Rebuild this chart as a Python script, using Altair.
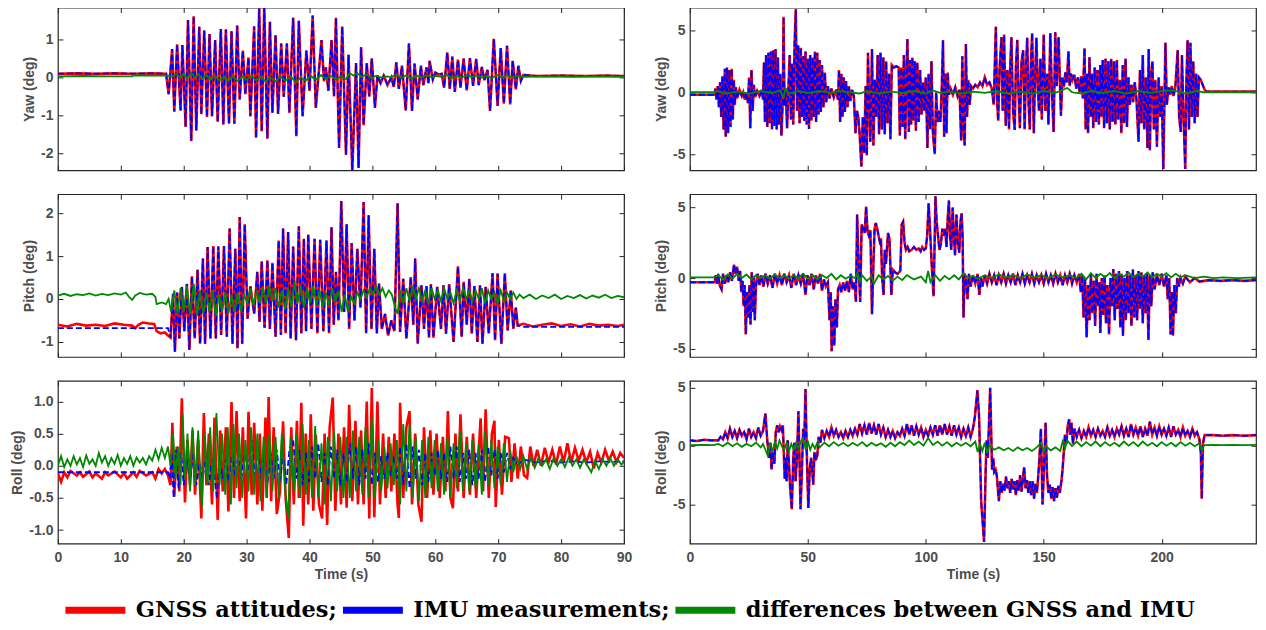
import altair as alt
import pandas as pd

LAB = ["GNSS attitudes;", "IMU measurements;", "differences between GNSS and IMU"]
COL = ["#ff0000", "#0000ff", "#008800"]

# ---------------- Left column (0-90 s) ----------------
LY_GNSS = [(0, 0.10), (3, 0.11), (6, 0.10), (9, 0.11), (12, 0.10), (15, 0.11), (17.2, 0.10),
    (17.6, -0.44), (18.16, 0.75), (18.5, -0.9), (18.95, 0.88), (19.5, -0.87), (19.79, 0.86), (20.3, -1.3),
    (20.68, 1.52), (21.2, -1.68), (21.58, 1.62), (22.0, -1.4), (22.47, 1.34), (22.8, -0.97), (23.26, 1.24),
    (23.7, -1.04), (24.1, 1.15), (24.5, -1.02), (25.0, 0.99), (25.4, -1.17), (25.9, 1.28), (26.3, -1.24),
    (26.7, 1.27), (27.2, -1.22), (27.6, 1.22), (28.05, -1.22), (28.5, 1.37), (28.9, -0.58), (29.4, 0.71),
    (29.8, -0.44), (30.3, 0.53), (30.6, -1.02), (31.2, 1.35), (31.5, -1.59), (32.0, 1.82), (32.4, -1.42),
    (32.8, 1.84), (33.3, -1.61), (33.7, 1.47), (34.1, -0.93), (34.6, 1.12), (35.0, -0.96), (35.5, 0.9),
    (35.9, -0.51), (36.4, 0.9), (36.8, -0.93), (37.4, 1.58), (37.9, -1.55), (38.3, 1.5), (38.9, -1.02),
    (39.5, 0.71), (40.0, -0.35), (40.5, 1.64), (41.0, -0.8), (41.9, 0.99), (42.3, -0.1), (42.6, 0.27),
    (43.0, -0.35), (43.5, 0.99), (43.9, -0.5), (44.2, 1.58), (44.7, -1.86), (45.2, 1.35), (45.8, -2.04),
    (46.2, 0.6), (46.8, -2.46), (47.4, 0.38), (47.8, -2.39), (48.2, 0.8), (48.6, -1.26), (49.1, 0.38),
    (49.5, -0.5), (49.9, 0.5), (50.4, -0.8), (50.8, 0.05), (51.3, -0.15), (51.8, 0.05), (52.4, -0.2),
    (53.0, 0.0), (53.4, -0.25), (53.8, 0.4), (54.2, -0.3), (54.7, 0.31), (55.3, -0.87), (55.8, 0.9),
    (56.3, -0.88), (56.7, 0.37), (57.2, -0.58), (57.7, 0.31), (58.1, -0.2), (58.6, 0.27), (58.9, -0.15),
    (59.1, 0.44), (59.6, -0.05), (60.0, 0.13), (60.5, 0.08), (61.0, 0.1), (61.4, -0.27), (61.9, 0.66),
    (62.3, -0.3), (62.7, 0.55), (63.1, -0.38), (63.6, 0.47), (64.0, -0.27), (64.5, 0.5), (65.0, -0.34),
    (65.5, 0.51), (66.0, -0.22), (66.5, 0.49), (66.9, -0.2), (67.4, 0.28), (67.8, -0.07), (68.3, 0.2),
    (68.7, -0.88), (69.3, 1.02), (69.9, -0.75), (70.4, 0.78), (70.9, -0.69), (71.4, 0.84), (71.9, -0.71),
    (72.3, 0.44), (72.8, -0.31), (73.2, 0.31), (73.6, -0.09), (74.0, 0.07), (76, 0.04), (80, 0.05),
    (84, 0.04), (87, 0.05), (90, 0.04)]
LY_IMU = LY_GNSS  # read as coincident with the GNSS curve
LY_DIFF = [(0, 0.03), (4, 0.04), (8, 0.03), (11.8, 0.03), (12, 0.06), (15, 0.05), (17.5, 0.05), (18.2, 0.02),
    (18.8, 0.09), (19.4, 0.0), (20.0, 0.1), (20.5, -0.02), (21.2, 0.12), (21.8, 0.0), (22.4, 0.08), (23, -0.04),
    (23.6, 0.06), (24.3, -0.06), (25, 0.04), (25.7, -0.08), (26.4, 0.03), (27, -0.1), (27.8, 0.02), (28.6, -0.09),
    (29.3, 0.02), (30, -0.06), (30.8, 0.05), (31.5, -0.08), (32.2, 0.02), (33, -0.1), (33.8, 0.0), (34.6, -0.1),
    (35.4, 0.02), (36.2, -0.09), (37, 0.03), (37.8, -0.12), (38.6, 0.0), (39.4, -0.08), (40.2, 0.04), (41, -0.06),
    (41.8, 0.06), (42.6, -0.03), (43.4, 0.04), (44.2, -0.05), (45, 0.03), (45.8, -0.04), (46.4, 0.12), (47, 0.05),
    (47.6, 0.11), (48.3, 0.02), (49, 0.08), (49.8, -0.02), (50.6, 0.05), (51.4, 0.0), (52.2, 0.03), (53, 0.01),
    (53.8, 0.08), (54.6, -0.02), (55.4, 0.06), (56.2, -0.03), (57, 0.05), (57.8, 0.0), (58.6, 0.06), (59.4, 0.01),
    (60.2, 0.04), (61, 0.02), (61.8, 0.07), (62.6, -0.01), (63.4, 0.05), (64.2, 0.0), (65, 0.06), (65.8, 0.01),
    (66.6, 0.05), (67.4, 0.0), (68.2, 0.04), (69, -0.02), (69.8, 0.07), (70.6, 0.0), (71.4, 0.06), (72.2, 0.0),
    (73, 0.04), (74, 0.02), (78, 0.03), (82, 0.02), (86, 0.03), (90, 0.02)]

LP_OSC = [(17.9, -0.9), (18.3, 0.12), (18.6, -1.23), (18.95, 0.15), (19.3, -0.92), (19.7, 0.28), (20.1, -0.75),
    (20.5, 0.35), (20.9, -1.19), (21.3, 0.53), (21.75, -0.92), (22.2, 0.68), (22.6, -1.04), (23.05, 0.94),
    (23.4, -1.04), (23.8, 1.21), (24.25, -0.92), (24.7, 1.23), (25.1, -0.92), (25.5, 1.22), (25.95, -0.84),
    (26.4, 1.23), (26.85, -0.88), (27.3, 1.64), (27.75, -1.04), (28.2, 1.17), (28.55, -1.15), (28.9, 1.91),
    (29.3, -1.04), (29.7, 1.74), (30.15, -0.46), (30.6, 0.3), (31.2, -0.34), (31.7, 0.63), (32.05, -0.53),
    (32.4, 0.88), (32.85, -0.67), (33.3, 0.9), (33.7, -0.7), (34.1, 0.84), (34.6, -0.88), (35.1, 1.36),
    (35.45, -0.84), (35.8, 1.64), (36.2, -0.8), (36.6, 1.56), (37.0, -0.92), (37.4, 1.22), (37.85, -0.96),
    (38.3, 1.69), (38.7, -0.8), (39.1, 1.4), (39.45, -0.75), (39.8, 1.5), (40.3, -0.7), (40.8, 1.4),
    (41.25, -0.8), (41.7, 1.38), (42.2, -0.75), (42.7, 1.36), (43.1, -0.8), (43.5, 1.67), (43.85, -0.6),
    (44.2, 0.63), (44.6, -0.5), (45.05, 2.28), (45.5, -0.3), (45.9, 1.74), (46.3, -0.7), (46.7, 1.3),
    (47.15, -0.5), (47.6, 1.17), (48.1, -0.2), (48.6, 2.26), (49.0, -0.8), (49.4, 1.95), (49.85, -0.7),
    (50.3, 1.17), (50.7, -0.8), (51.05, 0.36), (51.5, -0.7), (52.0, -0.35), (52.5, -0.85), (53.0, -0.5),
    (53.5, -0.75), (54.0, 2.23), (54.4, -0.77), (54.9, 0.47), (55.4, -0.92), (56.1, 0.51), (56.5, -0.6),
    (56.8, 0.94), (57.2, -1.04), (57.8, 0.32), (58.2, -0.7), (58.6, 0.3), (59.0, -0.9), (59.3, 0.35),
    (59.7, -0.9), (60.3, 0.28), (60.9, -0.7), (61.3, 0.32), (61.7, -0.81), (62.2, 0.34), (62.9, -1.0),
    (63.6, 0.76), (64.2, -0.88), (64.5, 0.4), (65.0, -0.6), (65.4, 0.47), (65.8, -0.81), (66.2, 0.3),
    (66.7, -1.0), (67.1, 0.32), (67.5, -1.04), (68.0, 0.28), (68.5, -0.8), (69.1, 0.6), (69.5, -0.96),
    (69.9, 0.59), (70.5, -1.04), (71.05, 0.6), (71.5, -0.73), (72.0, 0.2), (72.4, -0.69), (72.8, -0.2),
    (73.1, -0.62)]
LP_GNSS_PRE = [(0, -0.6), (1.5, -0.64), (3, -0.58), (4.5, -0.62), (6, -0.6), (7.5, -0.63), (9, -0.57),
    (10.5, -0.6), (11.8, -0.62), (12.3, -0.68), (12.8, -0.6), (13.5, -0.55), (14.5, -0.57), (15.3, -0.58),
    (15.7, -0.75), (16.3, -0.8), (17.0, -0.78), (17.5, -0.85)]
LP_GNSS_POST = [(74, -0.58), (75.5, -0.64), (77, -0.6), (78.5, -0.57), (80, -0.63), (81.5, -0.59),
    (83, -0.64), (84.5, -0.58), (86, -0.62), (87.5, -0.6), (89, -0.63), (90, -0.6)]
LP_IMU_PRE = [(0, -0.68), (17.5, -0.68)]
LP_IMU_POST = [(74, -0.65), (90, -0.65)]
LP_DIFF = [(0, 0.08), (1, 0.12), (2, 0.07), (3, 0.11), (4, 0.09), (5, 0.13), (6, 0.08), (7, 0.12), (8, 0.09),
    (9, 0.13), (10, 0.1), (10.8, 0.15), (11.3, 0.05), (11.8, -0.02), (12.3, 0.08), (13, 0.14), (14, 0.1),
    (15, 0.12), (15.5, 0.05), (15.7, -0.12), (16.5, -0.08), (17.2, -0.12), (17.6, 0.0), (18.0, -0.3),
    (18.5, 0.2), (19.0, -0.35), (19.5, 0.25), (20.0, -0.3), (20.5, 0.3), (21.0, -0.35), (21.6, 0.35),
    (22.1, -0.4), (22.6, 0.2), (23.1, -0.35), (23.6, 0.15), (24.1, -0.3), (24.6, 0.2), (25.1, -0.4),
    (25.6, 0.1), (26.1, -0.3), (26.6, 0.15), (27.1, -0.35), (27.6, 0.1), (28.1, -0.3), (28.6, 0.15),
    (29.1, -0.3), (29.6, 0.1), (30.1, -0.1), (30.6, 0.25), (31.1, -0.15), (31.6, 0.2), (32.1, -0.1),
    (32.6, 0.25), (33.1, -0.1), (33.6, 0.3), (34.1, -0.05), (34.6, 0.25), (35.1, -0.2), (35.6, 0.2),
    (36.1, -0.25), (36.6, 0.25), (37.1, -0.2), (37.6, 0.4), (38.1, -0.1), (38.6, 0.3), (39.1, -0.2),
    (39.6, 0.25), (40.1, -0.1), (40.6, 0.3), (41.1, -0.15), (41.6, 0.2), (42.1, -0.2), (42.6, 0.15),
    (43.1, -0.15), (43.6, 0.25), (44.1, -0.05), (44.6, 0.2), (45.1, -0.3), (45.6, 0.1), (46.1, -0.3),
    (46.6, 0.05), (47.1, -0.1), (47.6, 0.15), (48.1, 0.0), (48.6, 0.2), (49.1, 0.05), (49.6, 0.25),
    (50.1, 0.1), (50.6, 0.3), (51.1, 0.1), (51.6, 0.25), (52.1, 0.05), (52.6, 0.2), (53.1, 0.1),
    (53.6, -0.2), (54.0, -0.35), (54.4, 0.2), (54.9, -0.1), (55.4, 0.25), (55.9, -0.05), (56.4, 0.3),
    (56.9, 0.0), (57.4, 0.25), (57.9, -0.05), (58.4, 0.2), (58.9, -0.1), (59.4, 0.25), (59.9, 0.0),
    (60.4, 0.2), (60.9, -0.05), (61.4, 0.25), (61.9, 0.0), (62.4, 0.15), (62.9, -0.1), (63.4, 0.2),
    (63.9, -0.05), (64.4, 0.25), (64.9, 0.0), (65.4, 0.2), (65.9, -0.05), (66.4, 0.2), (66.9, 0.0),
    (67.4, 0.25), (67.9, -0.1), (68.4, 0.2), (68.9, 0.0), (69.4, 0.15), (69.9, -0.1), (70.4, 0.2),
    (70.9, -0.05), (71.4, 0.15), (71.9, 0.0), (72.4, 0.15), (72.9, 0.0), (73.4, 0.1), (74, 0.02), (75, 0.1),
    (76, 0.0), (77, 0.08), (78, 0.02), (79, 0.1), (80, 0.0), (81, 0.07), (82, 0.02), (83, 0.09), (84, 0.01),
    (85, 0.08), (86, 0.03), (87, 0.1), (88, 0.02), (89, 0.07), (90, 0.04)]

LR_GNSS = [(0, -0.12), (0.5, -0.25), (1, -0.1), (1.5, -0.18), (2, -0.08), (3, -0.15), (3.5, -0.1), (4, -0.17),
    (5, -0.09), (5.5, -0.18), (6, -0.12), (7, -0.2), (7.5, -0.1), (8, -0.15), (9, -0.09), (10, -0.18),
    (10.5, -0.11), (11, -0.2), (12, -0.1), (12.5, -0.17), (13, -0.08), (14, -0.15), (15, -0.1), (15.5, -0.2),
    (16, -0.05), (16.5, -0.12), (17, -0.05), (17.5, -0.15), (17.9, -0.3), (18.2, 0.67), (18.5, -0.48),
    (18.9, 0.3), (19.3, -0.4), (19.7, 1.05), (20.2, -0.57), (20.6, 0.4), (21.0, -0.3), (21.4, 0.55),
    (21.8, -0.45), (22.3, 0.4), (22.8, -0.82), (23.2, 0.82), (23.6, -0.3), (24.0, 0.5), (24.5, -0.6),
    (24.9, 0.75), (25.4, -0.84), (25.8, 0.55), (26.2, -0.4), (26.7, 0.6), (27.1, -0.71), (27.6, 0.99),
    (28.0, -0.5), (28.4, 0.85), (28.9, -0.55), (29.4, 0.6), (29.9, -0.82), (30.3, 0.84), (30.8, -0.45),
    (31.2, 0.67), (31.7, -0.6), (32.1, 0.5), (32.5, -0.7), (33.0, 0.75), (33.2, -0.5), (33.5, 1.07),
    (33.9, -0.55), (34.3, 0.6), (34.8, -0.75), (35.3, -0.4), (35.8, 0.69), (36.2, -0.5), (36.7, -1.12),
    (37.1, 0.6), (37.5, -0.6), (38.0, 0.7), (38.3, -0.5), (38.7, 0.98), (39.0, -0.93), (39.4, 0.5),
    (39.8, -0.6), (40.2, 0.8), (40.6, -0.7), (41.0, 0.48), (41.5, -0.6), (42.0, -0.82), (42.4, 0.5),
    (42.8, -0.92), (43.2, 0.6), (43.7, 1.06), (44.1, -0.7), (44.6, 0.5), (45.0, -0.6), (45.5, 0.6),
    (45.9, -0.65), (46.3, 0.95), (46.8, -0.55), (47.3, 0.7), (47.7, -0.6), (48.2, 0.55), (48.6, -0.6),
    (49.1, 1.0), (49.5, -0.82), (49.9, 1.21), (50.3, -0.8), (50.8, 1.0), (51.2, -0.6), (51.7, 0.5),
    (52.1, -0.5), (52.6, 0.45), (53.0, -0.4), (53.5, 0.5), (54.0, -0.6), (54.2, -0.81), (54.4, 0.98),
    (54.9, -0.5), (55.4, 0.6), (55.9, 0.85), (56.3, -0.6), (56.8, 0.5), (57.3, -0.6), (57.8, -0.87),
    (58.2, 0.6), (58.7, -0.5), (59.2, 0.55), (59.7, -0.45), (60.2, 0.5), (60.7, -0.5), (61.2, 0.45),
    (61.6, -0.4), (62.0, 0.85), (62.4, -0.5), (62.8, -0.66), (63.2, 0.5), (63.6, -0.4), (64.0, 0.8),
    (64.5, -0.5), (65.0, 0.45), (65.5, -0.45), (66.0, 0.5), (66.5, -0.5), (67.2, 0.74), (67.6, -0.4),
    (68.0, 0.88), (68.5, -0.5), (69.0, 0.5), (69.4, 0.7), (69.6, -0.64), (70.1, 0.4), (70.6, -0.45),
    (71.1, 0.45), (71.7, 0.43), (72.1, -0.25), (72.6, 0.35), (73.1, -0.2), (73.6, 0.3), (74.1, -0.15),
    (74.6, -0.19), (75.1, 0.3), (75.6, 0.0), (76.2, 0.25), (76.8, 0.0), (77.4, 0.28), (78, 0.05),
    (78.6, 0.25), (79.2, 0.02), (79.8, 0.3), (80.4, 0.05), (81, 0.35), (81.6, 0.05), (82.2, 0.28),
    (82.8, 0.08), (83.4, 0.25), (84, 0.05), (84.6, 0.22), (85.2, -0.04), (85.8, 0.2), (86.4, 0.05),
    (87, 0.25), (87.6, 0.08), (88.2, 0.22), (88.8, 0.06), (89.4, 0.2), (90, 0.12)]
LR_IMU = [(0, -0.1), (17.5, -0.1), (17.8, -0.2), (18.1, 0.2), (18.4, -0.5), (18.8, 0.25), (19.2, -0.35),
    (19.6, 0.2), (20.0, -0.3), (20.5, 0.1), (21.0, -0.25), (21.5, 0.2), (22.0, -0.3), (22.5, 0.05),
    (23.0, -0.2), (23.5, 0.15), (24.0, -0.3), (24.5, 0.1), (25.0, -0.25), (25.3, -0.52), (25.7, 0.15),
    (26.2, -0.2), (26.7, 0.1), (27.2, -0.25), (27.7, 0.2), (28.2, -0.15), (28.7, 0.2), (29.2, -0.2),
    (29.7, 0.25), (30.2, -0.1), (30.8, 0.4), (31.3, -0.15), (31.8, 0.3), (32.3, -0.2), (32.8, 0.2),
    (33.3, -0.3), (33.8, 0.2), (34.3, -0.2), (34.8, 0.25), (35.3, -0.25), (35.8, 0.2), (36.3, -0.3),
    (36.8, 0.25), (37.4, 0.4), (37.9, -0.2), (38.4, 0.25), (38.9, -0.3), (39.4, 0.2), (39.9, -0.25),
    (40.4, 0.3), (40.9, -0.2), (41.4, 0.35), (41.9, -0.25), (42.4, 0.2), (42.9, -0.3), (43.4, 0.3),
    (43.9, -0.2), (44.4, 0.25), (44.9, -0.3), (45.4, 0.2), (45.9, -0.25), (46.4, 0.35), (46.9, -0.2),
    (47.4, 0.3), (47.9, -0.3), (48.4, 0.25), (48.9, -0.2), (49.4, 0.35), (49.9, -0.3), (50.4, 0.2),
    (50.9, -0.25), (51.4, 0.15), (51.9, -0.2), (52.4, 0.2), (52.9, -0.15), (53.4, 0.15), (53.9, -0.2),
    (54.4, 0.3), (54.9, -0.3), (55.4, 0.35), (55.9, -0.35), (56.4, 0.3), (56.9, -0.2), (57.4, 0.25),
    (57.9, -0.3), (58.4, 0.2), (58.9, -0.25), (59.4, 0.2), (59.9, -0.15), (60.4, 0.25), (60.9, -0.2),
    (61.4, 0.2), (61.9, -0.25), (62.4, 0.3), (62.9, -0.2), (63.4, 0.3), (63.9, -0.25), (64.4, 0.2),
    (64.9, -0.2), (65.4, 0.25), (65.9, -0.3), (66.4, 0.2), (66.9, -0.2), (67.4, 0.25), (67.9, -0.25),
    (68.4, 0.3), (68.9, -0.15), (69.4, 0.25), (69.9, -0.2), (70.4, 0.2), (70.9, -0.1), (71.4, 0.2),
    (71.9, -0.05), (72.4, 0.15), (73, 0.0), (74, 0.1), (76, 0.05), (78, 0.08), (80, 0.05), (82, 0.07),
    (84, 0.05), (86, 0.07), (88, 0.06), (90, 0.07)]
LR_DIFF = [(0, 0.0), (0.5, 0.15), (1, -0.02), (1.5, 0.1), (2, 0.0), (2.5, 0.15), (3, 0.02), (3.5, 0.12),
    (4, -0.02), (4.5, 0.16), (5, 0.03), (5.5, 0.1), (6, 0.0), (6.5, 0.2), (7, 0.05), (7.5, 0.15), (8, 0.0),
    (8.5, 0.12), (9, 0.03), (9.5, 0.17), (10, 0.0), (10.5, 0.12), (11, 0.03), (11.5, 0.15), (12, 0.0),
    (12.5, 0.13), (13, 0.05), (13.5, 0.12), (14, 0.02), (14.5, 0.15), (15, 0.08), (15.5, 0.25), (16, 0.1),
    (16.5, 0.28), (17, 0.12), (17.5, 0.3), (17.9, 0.0), (18.3, 0.5), (18.7, -0.2), (19.1, 0.3), (19.5, -0.3),
    (19.8, 0.8), (20.2, -0.2), (20.6, 0.5), (21.0, -0.4), (21.4, 0.6), (21.8, -0.3), (22.3, 0.55),
    (22.9, -0.66), (23.3, 0.5), (23.8, -0.3), (24.2, 0.6), (24.7, -0.4), (25.2, 0.82), (25.7, -0.3),
    (26.1, 0.5), (26.6, -0.45), (27.0, 0.6), (27.5, -0.6), (27.9, 0.65), (28.4, -0.35), (28.8, 0.5),
    (29.3, -0.5), (29.8, 0.4), (30.3, -0.4), (30.7, 0.6), (31.2, -0.45), (31.7, 0.5), (32.2, -0.55),
    (32.7, 0.45), (33.2, -0.5), (33.6, 0.5), (34.1, -0.4), (34.6, 0.45), (35.1, -0.5), (35.6, 0.5),
    (36.1, -0.35), (36.6, -0.82), (37.0, 0.45), (37.5, -0.4), (38.0, 0.5), (38.5, -0.5), (38.9, 0.65),
    (39.4, -0.45), (39.9, 0.4), (40.4, -0.5), (40.9, 0.62), (41.4, -0.5), (41.9, 0.35), (42.4, -0.6),
    (42.9, 0.45), (43.4, -0.55), (43.9, 0.55), (44.4, -0.4), (44.9, 0.45), (45.4, -0.5), (45.9, 0.45),
    (46.4, -0.5), (46.9, 0.55), (47.4, -0.4), (47.9, 0.45), (48.4, -0.45), (48.9, 0.6), (49.4, -0.5),
    (49.9, 0.75), (50.4, -0.5), (50.9, 0.4), (51.4, -0.4), (51.9, 0.3), (52.4, -0.35), (52.9, 0.35),
    (53.4, -0.3), (53.9, 0.4), (54.4, -0.6), (54.9, 0.65), (55.4, -0.4), (55.9, 0.65), (56.4, -0.5),
    (56.9, 0.45), (57.4, -0.55), (57.9, 0.4), (58.4, -0.5), (58.9, 0.45), (59.4, -0.35), (59.9, 0.4),
    (60.4, -0.4), (60.9, 0.35), (61.4, -0.45), (61.9, 0.45), (62.4, -0.5), (62.9, 0.35), (63.4, -0.35),
    (63.9, 0.55), (64.4, -0.4), (64.9, 0.35), (65.4, -0.4), (65.9, 0.4), (66.4, -0.35), (66.9, 0.35),
    (67.4, -0.45), (67.9, 0.55), (68.4, -0.3), (68.9, 0.4), (69.4, -0.35), (69.9, 0.3), (70.4, -0.3),
    (70.9, 0.35), (71.4, -0.25), (71.9, 0.25), (72.4, -0.1), (72.9, 0.15), (73.5, -0.05), (74, 0.15),
    (74.6, -0.05), (75.2, 0.12), (75.8, -0.03), (76.4, 0.12), (77, 0.0), (77.6, 0.1), (78.2, -0.05),
    (78.8, 0.12), (79.4, 0.0), (80, 0.1), (80.6, -0.02), (81.2, 0.13), (81.8, 0.0), (82.4, 0.1), (83, -0.03),
    (83.6, 0.1), (84.2, 0.0), (84.8, -0.1), (85.4, 0.08), (86, -0.05), (86.6, 0.1), (87.2, 0.0),
    (87.8, 0.12), (88.4, 0.0), (89, 0.1), (89.6, 0.02), (90, 0.06)]

# ---------------- Right column (0-240 s) ----------------
RY_GNSS = [(0, -0.2), (5, -0.2), (10.5, -0.2), (10.8, 0.3), (11.3, -0.6), (11.8, 0.5), (12.3, -1.2),
    (12.8, 0.8), (13.3, -2.0), (13.8, 1.3), (14.3, -3.0), (14.8, 1.9), (15.2, -3.6), (15.7, 2.0), (16.2, -3.3),
    (16.7, 1.8), (17.2, -2.8), (17.7, 1.9), (18.2, -2.2), (18.6, 1.0), (19.0, -1.0), (19.5, 0.4), (20.0, -0.5),
    (21, 0.2), (22, -0.3), (22.6, 0.0), (23.3, -0.6), (24.0, 0.0), (24.6, -0.9), (25.1, 1.2), (25.6, -2.9),
    (26.1, 1.8), (26.6, -1.5), (27.1, 0.6), (27.6, -0.4), (28.5, 0.1), (29.5, -0.3), (30.5, 0.2),
    (31.0, -0.6), (31.4, 2.4), (31.8, -2.4), (32.3, 3.0), (32.8, -2.8), (33.3, 3.2), (33.8, -2.5), (34.3, 3.3),
    (34.8, -3.0), (35.3, 3.4), (35.8, -2.7), (36.3, 3.5), (36.8, -3.0), (37.3, 2.8), (37.8, -2.6), (38.3, 1.5),
    (38.8, -3.5), (39.4, -0.5), (39.7, 6.1), (40.1, -1.1), (40.6, 0.3), (41.2, -2.9), (41.8, 0.5), (42.3, 3.0),
    (42.8, -2.2), (43.3, 2.3), (43.8, -2.6), (44.4, 4.1), (44.9, 6.7), (45.4, -1.5), (45.9, 3.8), (46.5, -2.5),
    (47.0, 3.6), (47.5, -2.0), (48.0, 2.9), (48.5, -2.3), (49.0, 3.3), (49.5, -2.6), (50.0, 2.7), (50.5, -2.96),
    (51.0, 3.0), (51.5, -2.3), (52.0, 2.8), (52.5, -2.0), (53.0, 3.3), (53.5, -2.4), (54.0, 3.2), (54.5, -1.8),
    (55.0, 2.6), (55.5, -1.6), (56.0, 2.2), (56.6, -1.2), (57.2, 1.6), (57.8, -0.8), (58.5, 0.5), (59.2, -0.5),
    (60, 0.3), (61, -0.4), (62, 0.2), (62.8, -0.6), (63.2, 1.8), (63.7, -2.4), (64.2, 1.5), (64.7, -2.0),
    (65.2, 1.2), (65.7, -1.6), (66.2, 0.9), (66.8, -1.2), (67.4, 0.5), (68, -0.7), (68.8, 0.2), (69.5, -0.3),
    (70.2, -3.3), (70.8, -1.5), (71.4, -2.0), (72.0, -3.5), (72.7, -6.0), (73.3, -2.0), (73.9, -4.9),
    (74.5, 0.5), (75.0, -5.1), (75.5, 3.2), (76.0, -1.0), (76.5, -4.0), (77.2, 3.5), (77.8, -4.3), (78.4, 1.0),
    (79.0, -2.0), (79.6, 3.0), (80.2, -3.4), (80.8, 3.2), (81.4, -3.0), (82, 2.8), (82.6, -3.4), (83.2, 2.5),
    (83.8, -2.5), (84.4, 1.5), (85.0, -3.8), (85.6, 2.2), (86.5, 2.0), (87.5, 2.1), (88.5, 2.0), (89.0, -3.5),
    (89.6, 2.0), (90.2, -2.8), (90.7, 3.0), (91.3, -3.8), (91.8, 1.5), (92.2, 4.3), (92.8, -3.2), (93.3, 2.6),
    (93.8, -2.6), (94.3, 2.8), (94.8, -2.3), (95.3, 2.5), (95.8, -3.1), (96.4, 2.4), (97, -2.4), (97.6, 1.8),
    (98.2, -1.8), (98.8, 0.8), (99.4, -1.5), (100.0, 1.2), (100.7, -4.5), (101.2, 1.5), (101.8, -3.0),
    (102.4, 2.5), (103.0, -3.2), (103.8, -5.0), (104.4, 0.0), (105.0, -2.4), (105.6, -1.5), (106.2, -2.4),
    (106.8, 0.5), (107.3, 4.2), (107.8, -3.6), (108.3, 1.5), (108.8, -3.3), (109.3, 1.6), (109.8, -0.2),
    (110.5, 0.3), (111.5, -0.2), (112.5, 0.4), (113.5, -0.3), (114.3, 0.2), (115.0, -3.9), (115.5, 2.9),
    (116.0, -3.0), (116.5, -4.3), (117.0, 3.9), (117.5, -2.0), (118.0, 1.0), (118.6, -1.0), (119.2, 0.5),
    (120, 0.3), (121, 0.6), (122, 0.4), (123, 0.8), (124, 0.5), (125, 1.2), (126, 0.6), (127, 0.8), (128, 0.3),
    (128.8, -1.0), (129.7, 5.3), (130.2, -0.5), (130.7, -2.3), (131.3, 2.0), (132.1, 4.45), (132.6, -1.5),
    (133.2, 4.66), (133.9, -2.7), (134.6, 1.8), (135.3, -3.0), (135.8, 2.0), (136.3, 4.45), (137.0, -1.5),
    (137.7, -3.05), (138.2, 2.0), (138.8, 4.23), (139.3, 0.0), (139.9, -2.9), (140.6, 2.5), (141.3, 3.4),
    (141.9, -3.0), (142.5, 2.0), (143.0, 4.4), (143.6, -1.0), (144.1, -3.0), (144.6, 2.5), (145.1, 4.77),
    (145.8, -3.3), (146.3, 1.0), (146.9, 4.4), (147.5, 0.2), (148.0, -1.5), (148.6, 2.7), (149.2, -2.2),
    (150.0, 4.66), (150.7, -1.5), (151.4, 1.5), (152.0, -2.6), (152.8, 4.77), (153.4, 0.5), (154.2, -3.2),
    (154.9, 4.85), (155.5, 0.5), (156.3, 4.45), (157.3, -1.9), (157.9, 1.2), (158.5, 0.4), (159.2, 1.6),
    (159.8, 0.8), (160.5, 3.3), (161.0, 0.5), (161.6, 1.5), (162.2, 1.0), (163.0, 1.4), (163.8, 0.3),
    (164.5, 1.2), (165.2, 0.0), (165.9, 1.3), (166.6, -0.5), (167.3, 3.56), (167.8, -3.0), (168.3, 1.5),
    (168.8, -3.3), (169.4, 2.83), (170.0, -2.0), (170.5, 1.5), (171.0, -2.9), (171.6, 2.0), (172.2, -2.4),
    (172.8, 1.8), (173.4, -2.6), (174.0, 2.2), (174.5, -2.0), (175.0, 2.6), (175.6, -2.9), (176.2, 2.7),
    (176.8, -2.5), (177.4, 2.5), (178.0, -3.0), (178.6, 2.7), (179.2, -2.4), (179.8, 2.5), (180.4, -2.6),
    (181.0, 2.6), (181.6, -2.2), (182.3, 1.0), (182.9, -3.3), (183.5, 2.2), (184.1, -2.5), (184.7, 2.7),
    (185.3, -2.8), (185.9, 1.2), (186.5, -1.0), (187.2, 0.6), (187.9, -0.8), (188.6, 0.8), (189.3, -0.5),
    (190.2, -4.0), (190.8, 1.8), (191.4, -2.5), (192.0, 3.0), (192.6, -3.0), (193.3, 1.2), (194.0, -4.5),
    (194.5, 3.5), (195.0, -4.7), (195.6, 1.5), (196.1, 2.5), (196.7, -3.0), (197.3, 1.0), (198, -4.4),
    (198.7, 1.2), (199.4, -2.0), (200.0, 0.5), (200.7, -6.2), (201.6, 4.0), (202.2, -1.0), (202.9, 0.4),
    (203.6, -0.2), (204.3, 0.5), (205.0, -0.3), (205.8, 0.4), (206.8, 3.4), (207.4, -2.0), (208.1, -3.2),
    (208.6, 3.0), (209.3, -2.0), (210.0, -6.2), (210.5, 1.0), (211.0, 4.2), (211.6, -3.0), (212.2, 4.0),
    (212.8, -2.0), (213.4, 2.5), (214.0, -2.5), (214.6, 1.5), (215.2, -2.0), (215.8, 1.2), (216.6, 1.0),
    (217.4, 0.6), (218.2, 0.2), (219, 0.05), (225, 0.05), (232, 0.05), (240, 0.05)]
RY_IMU = RY_GNSS
RY_DIFF = [(0, 0.0), (10, 0.0), (12, 0.1), (15, -0.1), (20, 0.05), (25, -0.1), (30, 0.1), (35, -0.05),
    (38, 0.15), (39.7, -0.4), (40.5, 0.3), (42, -0.1), (46, 0.1), (50, -0.05), (55, 0.1), (60, -0.05),
    (63, 0.1), (68, 0.0), (72, -0.1), (75, 0.1), (80, -0.1), (85, 0.05), (90, -0.05), (95, 0.1), (100, -0.1),
    (103, 0.15), (106, -0.05), (110, 0.05), (115, -0.1), (120, 0.05), (125, -0.05), (130, 0.1), (135, -0.1),
    (140, 0.05), (145, -0.1), (150, 0.1), (155, -0.05), (160, 0.35), (162, 0.0), (166, -0.1), (170, 0.1),
    (175, -0.05), (180, 0.1), (185, -0.1), (190, 0.1), (195, -0.05), (200, 0.1), (205, 0.15), (210, -0.1),
    (215, 0.1), (218, 0.0), (225, 0.0), (240, 0.0)]

RP_GNSS = [(0, -0.3), (5, -0.3), (10.5, -0.3), (11, 0.2), (11.5, -0.4), (12, 0.3), (12.6, -0.5), (13.4, -0.8),
    (14, 0.3), (14.8, -0.4), (15.5, 0.2), (16.2, -0.3), (17, 0.4), (17.8, -0.2), (18.7, 0.95), (19.3, 0.3),
    (20, 0.8), (20.7, -0.2), (21.3, 0.5), (21.8, -1.0), (22.3, -0.2), (22.8, -2.0), (23.2, -0.5), (23.7, -4.0),
    (24.2, -1.0), (24.8, -2.8), (25.2, -0.5), (25.7, -3.3), (26.2, 0.4), (26.7, -2.4), (27.1, 0.1), (27.5, -3.0),
    (28.0, -0.6), (28.7, 0.3), (29.5, -0.5), (30.3, 0.2), (31.2, -0.6), (32, 0.3), (33, -0.4), (34, 0.2),
    (35, -0.7), (36, 0.3), (37, -0.4), (38, 0.2), (39, -0.5), (40, 0.3), (41, -0.3), (42, 0.2), (43, -0.7),
    (44, 0.3), (45, -0.5), (46, 0.2), (47, -0.4), (48, 0.3), (49, -1.2), (49.8, 0.2), (50.7, -0.5), (51.6, 0.3),
    (52.5, -0.8), (53.4, 0.2), (54.3, -0.4), (55.2, 0.3), (56, -0.9), (56.8, -0.1), (57.6, -0.6), (58.5, -0.3),
    (59.2, -3.0), (59.7, -1.0), (60.1, -5.2), (60.6, -2.0), (61.2, -4.8), (61.7, -1.5), (62.3, -3.5),
    (62.8, -0.8), (63.5, -0.5), (64.2, -1.0), (65, -0.3), (65.8, -0.9), (66.6, -0.2), (67.4, -1.0), (68.2, 0.3),
    (69, -0.8), (69.8, -0.3), (70.4, -1.7), (70.9, 4.5), (71.5, 1.0), (72.2, -1.7), (72.8, 3.8), (73.4, 3.5),
    (74.1, 3.2), (74.7, 5.07), (75.3, 3.3), (75.9, 3.0), (76.5, 3.4), (77.2, -2.56), (77.8, 1.0), (78.3, 3.5),
    (78.8, 3.9), (79.4, 3.5), (80.0, 3.0), (80.5, 2.6), (81.0, 2.8), (81.5, 0.0), (82.1, -1.2), (82.6, 2.0),
    (83.1, 1.0), (84.0, 3.2), (84.6, 2.8), (85.4, -1.2), (86, 0.6), (87, 0.4), (88, 0.3), (89.2, 0.5),
    (89.8, 3.8), (90.4, 4.0), (91, 2.5), (91.6, 2.0), (92.3, 2.2), (93, 1.9), (94, 2.0), (95, 2.2), (96, 2.0),
    (97, 2.1), (97.8, 1.9), (98.5, 2.2), (99.3, 2.0), (100, 2.1), (100.6, 3.0), (101.2, 5.3), (101.8, 3.5),
    (102.5, 1.0), (103.3, -1.3), (103.7, 2.0), (104.1, 5.8), (104.6, 4.0), (105.2, 3.0), (105.8, 2.0),
    (106.4, 2.4), (107, 3.5), (107.6, 3.0), (108.2, 3.5), (108.8, 2.2), (109.3, 4.2), (109.8, 5.5), (110.3, 3.0),
    (110.8, 2.0), (111.4, 5.0), (111.9, 3.0), (112.4, 1.6), (113, 4.5), (113.6, 2.5), (114.2, 1.8), (114.7, 4.0),
    (115.2, 4.6), (115.6, 3.0), (116.0, -2.8), (116.5, 0.3), (117.2, -0.3), (117.7, -1.5), (118.3, 0.3),
    (119, -0.6), (120, 0.2), (121, -0.4), (122, 0.3), (122.7, -1.2), (123.4, 0.0), (124, -0.6), (125, 0.2),
    (126, -0.4), (127, 0.3), (128, -0.3), (129, 0.2), (130, -0.5), (131, 0.2), (132, -0.3), (133, 0.3),
    (134, -0.4), (135, 0.2), (136, -0.3), (137, 0.3), (138, -0.5), (139, 0.2), (140, -0.3), (141, 0.3),
    (142, -0.4), (143, 0.2), (144, -0.3), (145, 0.3), (146, -0.4), (147, 0.2), (148, -0.3), (149, 0.2),
    (150, -0.4), (151, 0.3), (152, -0.3), (153, 0.2), (154, -0.4), (155, 0.3), (156, -0.3), (157, 0.2),
    (158, -0.5), (159, 0.2), (160, -0.3), (161, 0.3), (162, -0.4), (163, 0.2), (164, -0.3), (165, 0.3),
    (165.7, -1.0), (166.3, 0.2), (166.9, -2.8), (167.5, 0.0), (168.2, -4.2), (168.8, -0.5), (169.4, -3.0),
    (170, 0.3), (170.6, -2.5), (171.2, -0.2), (171.8, -3.4), (172.4, 0.3), (173, -2.0), (173.6, -0.3),
    (174, -3.9), (174.6, 0.0), (175.2, -2.6), (175.8, 0.2), (176.4, -3.2), (177, -0.5), (177.7, -4.0),
    (178.3, 0.0), (178.9, -2.0), (179.5, 0.64), (180.1, -3.0), (180.7, 0.3), (181.3, -2.2), (181.9, 0.5),
    (182.5, -3.5), (183.0, 0.3), (183.6, -4.1), (184.2, 0.0), (184.8, -3.0), (185.4, 0.5), (186, -2.5),
    (186.6, 0.2), (187.2, -3.4), (187.8, 0.6), (188.4, -2.8), (189, 0.2), (189.6, -3.0), (190.2, 0.5),
    (190.8, -2.2), (191.4, 0.4), (192, -3.2), (192.6, 0.2), (193.2, -2.5), (193.8, 0.3), (194.4, -4.4),
    (195, 0.2), (195.6, -2.0), (196.2, 0.4), (197, -0.8), (198, 0.2), (199, -0.5), (200, 0.3), (201, -0.6),
    (202, 0.2), (202.6, -1.5), (203.2, 0.0), (203.8, -4.0), (204.3, -1.0), (204.8, -4.1), (205.4, -0.5),
    (206, -2.5), (206.6, 0.0), (207.3, -0.6), (208, 0.0), (209, -0.4), (210, 0.1), (212, -0.3), (214, 0.0),
    (216, -0.25), (220, -0.15), (225, -0.2), (230, -0.15), (235, -0.2), (240, -0.15)]
RP_IMU = RP_GNSS
RP_DIFF = [(0, 0.05), (10, 0.05), (12, 0.2), (14, -0.1), (16, 0.25), (18, -0.05), (20, 0.3), (22, 0.0),
    (24, 0.25), (26, -0.1), (28, 0.2), (30, 0.0), (32, 0.2), (34, -0.05), (36, 0.25), (38, 0.0), (40, 0.2),
    (42, -0.05), (44, 0.2), (46, 0.0), (48, 0.3), (50, -0.05), (52, 0.2), (54, -0.1), (56, 0.2), (58, 0.0),
    (60, 0.3), (62, -0.1), (64, 0.2), (66, -0.05), (68, 0.15), (70, 0.0), (71, 0.4), (72, -0.3), (73, 0.2),
    (75, -0.2), (77, 0.1), (78, -0.4), (80, 0.2), (82, -0.1), (84, 0.15), (86, -0.2), (88, 0.1), (90, -0.15),
    (92, 0.2), (95, -0.1), (98, 0.1), (100, -0.3), (101, 0.5), (102, -0.3), (104, 0.2), (106, -0.2),
    (108, 0.15), (110, -0.1), (112, 0.2), (114, -0.1), (116, 0.35), (118, 0.0), (120, 0.15), (122, -0.05),
    (125, 0.2), (128, 0.0), (131, 0.25), (134, 0.05), (137, 0.2), (140, 0.0), (143, 0.25), (146, 0.05),
    (149, 0.2), (152, 0.0), (155, 0.25), (158, 0.05), (161, 0.2), (164, 0.0), (166, 0.3), (168, -0.1),
    (170, 0.35), (172, 0.0), (174, 0.3), (176, 0.05), (178, 0.35), (180, 0.0), (182, 0.3), (184, 0.1),
    (186, 0.4), (188, 0.05), (190, 0.3), (192, 0.1), (194, 0.4), (196, 0.05), (198, 0.3), (200, 0.1),
    (202, 0.35), (204, 0.05), (206, 0.3), (208, 0.05), (210, 0.2), (214, 0.0), (218, 0.1), (222, 0.0),
    (226, 0.05), (232, 0.0), (240, 0.05)]

RR_GNSS = [(0, 0.5), (3, 0.45), (6, 0.55), (9, 0.5), (12, 0.5), (13, 0.8), (14, 0.6), (15, 1.2), (16, 0.7),
    (17, 1.5), (18, 0.8), (19, 1.3), (20, 0.7), (21, 1.4), (22, 0.9), (23, 1.2), (24, 0.6), (25, 1.5), (26, 0.8),
    (27, 1.2), (28, 0.7), (29, 1.6), (30, 0.9), (31, 1.3), (32, 2.8), (32.8, 0.5), (33.6, -1.0), (34.2, 0.3),
    (34.6, -2.0), (35.2, -0.5), (35.8, -1.5), (36.4, 1.2), (37, 1.8), (37.6, 1.2), (38.2, 1.7), (38.8, 1.4),
    (39.4, 1.8), (40.2, -2.8), (40.6, -1.0), (41.0, -3.0), (41.5, 0.5), (42.0, -1.5), (42.5, -3.5),
    (43.2, -5.4), (43.8, -1.0), (44.3, 0.3), (44.8, -3.0), (45.4, -1.0), (46.0, 3.0), (46.5, -1.5),
    (46.9, -5.4), (47.5, -2.0), (48.0, 1.5), (48.5, 0.5), (49.0, 4.9), (49.6, -1.0), (50.2, -5.3), (50.8, -2.0),
    (51.4, -1.0), (52.3, -3.3), (52.8, -0.5), (53.4, -1.2), (54.0, -0.8), (54.6, 0.8), (55.3, 0.3), (56, 1.4),
    (57, 0.7), (58, 1.3), (59, 0.8), (60, 1.6), (61, 0.9), (62, 1.4), (63, 0.8), (64, 1.2), (65, 0.7), (66, 1.3),
    (67, 0.8), (68, 1.4), (69, 0.9), (70, 1.5), (71, 1.0), (72, 1.9), (73, 1.1), (74, 1.8), (75, 1.0), (76, 2.0),
    (77, 1.1), (78, 1.8), (79, 1.0), (80, 1.9), (81, 1.0), (82, 1.6), (83, 0.8), (84, 1.4), (85, 0.8), (86, 1.3),
    (87, 0.7), (88, 1.2), (89, 0.9), (90, 1.5), (91, 0.9), (92, 1.9), (93, 1.0), (94, 1.8), (95, 0.9), (96, 1.7),
    (97, 1.0), (98, 1.6), (99, 0.8), (100, 1.4), (101, 0.9), (102, 1.6), (103, 1.0), (104, 1.8), (105, 0.9),
    (106, 1.8), (107, 1.0), (108, 1.9), (109, 1.0), (110, 1.7), (111, 0.9), (112, 1.8), (113, 1.0), (114, 1.6),
    (115, 0.8), (116, 1.5), (117, 0.9), (118, 1.6), (119, 0.8), (120, 1.5), (120.8, 2.5), (121.9, 4.8),
    (122.6, 2.5), (123.5, -4.8), (124.7, -8.2), (125.4, -2.0), (125.8, 0.5), (126.3, -1.0), (127.3, 5.0),
    (128.1, -2.0), (128.6, -1.0), (129, -2.2), (129.6, -2.0), (130.1, -2.5), (131, -4.7), (131.6, -3.0),
    (132.2, -4.0), (132.8, -3.2), (133.4, -3.8), (134, -2.6), (134.6, -3.6), (135.2, -3.0), (135.8, -4.0),
    (136.4, -2.8), (137, -3.7), (137.6, -3.0), (138.2, -4.2), (138.8, -2.9), (139.4, -3.8), (140, -2.5),
    (140.6, -3.9), (141.2, -2.8), (141.7, -1.8), (142.3, -3.6), (142.9, -2.9), (143.5, -4.0), (144.1, -3.0),
    (144.7, -4.2), (145.3, -3.0), (145.9, -4.5), (146.5, -3.2), (147.1, -4.0), (147.6, -2.8), (148.2, -1.0),
    (148.8, 1.5), (149.5, -5.0), (150.1, -2.0), (150.8, 2.0), (151.4, -2.5), (152, -4.0), (152.6, -3.3),
    (153.2, -4.5), (153.8, -3.5), (154.4, -4.7), (155, -3.6), (155.6, -4.4), (156.2, -3.4), (156.8, -4.0),
    (157.5, -3.0), (158, -2.0), (158.5, -0.5), (159, 1.0), (159.6, 0.2), (160.2, 1.8), (160.8, 2.3),
    (161.3, 1.0), (161.8, 2.0), (162.4, 0.2), (163, 1.5), (164, 0.8), (165, 1.4), (166, 0.7), (167, 1.3),
    (168, 0.8), (169, 1.6), (170, 0.9), (171, 1.4), (172, 0.8), (173, 1.5), (174, 0.9), (175, 1.3), (176, 0.8),
    (177, 1.6), (178, 0.9), (179, 1.4), (180, 0.8), (181, 1.5), (182, 1.0), (183, 1.7), (184, 0.9), (185, 1.5),
    (186, 0.8), (187, 1.9), (188, 1.0), (189, 1.6), (190, 0.9), (191, 1.7), (192, 0.8), (193, 1.5), (194, 0.9),
    (195, 2.1), (196, 1.0), (197, 1.6), (198, 0.9), (199, 1.7), (200, 1.0), (201, 1.5), (202, 0.9), (203, 1.6),
    (204, 0.8), (205, 1.7), (206, 1.0), (207, 1.4), (208, 0.8), (209, 1.6), (210, 0.9), (211, 1.3), (212, 0.8),
    (213, 1.5), (214, 0.9), (215, 1.2), (216, 0.6), (216.6, -0.5), (217, -4.5), (217.5, 0.2), (218.2, 0.95),
    (222, 0.95), (226, 0.9), (230, 0.95), (235, 0.9), (240, 0.95)]
RR_IMU = RR_GNSS
RR_DIFF = [(0, 0.1), (5, 0.12), (10, 0.1), (12, 0.2), (14, 0.0), (16, 0.3), (18, 0.0), (20, 0.25), (22, -0.05),
    (24, 0.2), (26, 0.0), (28, 0.3), (30, -0.1), (31, 0.2), (32, -0.3), (33, -0.8), (34, 0.3), (35, -0.5),
    (36, 0.4), (37, -0.2), (38, 0.5), (39, 0.0), (40, -0.3), (41, 0.3), (42, -0.4), (43, 0.2), (44, -0.3),
    (45, 0.3), (46, -0.2), (47, 0.4), (48, 0.7), (49, -0.2), (50, 0.4), (51, -0.3), (52, 0.2), (53, -0.2),
    (54, 0.3), (55, -0.1), (57, 0.3), (59, 0.0), (61, 0.35), (63, 0.05), (65, 0.3), (67, 0.0), (69, 0.3),
    (71, 0.05), (73, 0.35), (75, 0.0), (77, 0.3), (79, 0.05), (81, 0.25), (83, -0.05), (85, 0.3), (87, 0.0),
    (89, 0.35), (91, 0.1), (93, 0.5), (95, 0.1), (97, 0.4), (99, 0.05), (101, 0.7), (103, 0.1), (105, 0.4),
    (107, 0.05), (109, 0.35), (111, 0.0), (113, 0.3), (115, 0.05), (117, 0.3), (119, 0.0), (121, 0.4),
    (122, -0.5), (123, 0.2), (124, -0.4), (125, 0.3), (126, -0.6), (127, 0.1), (129, -0.3), (131, -0.1),
    (133, -0.35), (135, -0.15), (137, -0.4), (139, -0.1), (141, -0.35), (143, -0.15), (145, -0.4), (147, -0.1),
    (149, 0.3), (150, -0.5), (151, 0.0), (153, -0.35), (155, -0.1), (157, -0.4), (158, 0.4), (159, -0.2),
    (160, 0.5), (162, 0.0), (164, 0.4), (166, 0.0), (168, 0.35), (170, 0.05), (172, 0.4), (174, 0.0),
    (176, 0.35), (178, 0.05), (180, 0.3), (182, 0.0), (184, 0.4), (186, 0.05), (188, 0.35), (190, 0.0),
    (192, 0.4), (194, 0.05), (196, 0.3), (198, 0.0), (200, 0.35), (202, 0.05), (204, 0.3), (206, 0.0),
    (208, 0.35), (210, 0.05), (212, 0.3), (214, 0.0), (216, 0.25), (217, -0.4), (218, 0.1), (222, 0.12),
    (226, 0.1), (230, 0.12), (235, 0.1), (240, 0.12)]

LEFT_X = [0, 90]
RIGHT_X = [0, 240]
LEFT_XTICKS = [0, 10, 20, 30, 40, 50, 60, 70, 80, 90]
RIGHT_XTICKS = [0, 50, 100, 150, 200]

W, H = 567, 163
FIX = "replace(datum.label, '\u2212', '-')"


def frame(pairs, label):
    return pd.DataFrame({"t": [p[0] for p in pairs], "v": [p[1] for p in pairs], "s": label})


def panel(g, i, d, xdom, ydom, xticks, yticks, ytitle, bottom):
    xs = alt.Scale(domain=xdom, nice=False, zero=False)
    ys = alt.Scale(domain=ydom, nice=False, zero=False)
    col = alt.Color("s:N", scale=alt.Scale(domain=LAB, range=COL), legend=alt.Legend(title=None))
    if bottom:
        xa = alt.Axis(values=xticks, orient="bottom", offset=-5, tickSize=5, labelExpr=FIX,
                      labelPadding=7, titlePadding=3, labelFlush=False, minExtent=0)
        xt = "Time (s)"
    else:
        xa = alt.Axis(values=xticks, orient="bottom", offset=-5, tickSize=5, labels=False, minExtent=0)
        xt = None
    ya = alt.Axis(values=yticks, orient="left", offset=-5, tickSize=5, labelExpr=FIX,
                  labelPadding=5, titlePadding=4, minExtent=0, labelFlush=False)
    # inward ticks along the top and right frame edges
    xa2 = alt.Axis(values=xticks, orient="bottom", offset=-H, tickSize=5, labels=False, minExtent=0)
    ya2 = alt.Axis(values=yticks, orient="left", offset=-W, tickSize=5, labels=False, minExtent=0)

    red = alt.Chart(frame(g, LAB[0])).mark_line(strokeWidth=2.6, clip=True).encode(
        x=alt.X("t:Q", scale=xs, axis=xa, title=xt),
        y=alt.Y("v:Q", scale=ys, axis=ya, title=ytitle),
        color=col, order="t:Q")
    blue = alt.Chart(frame(i, LAB[1])).mark_line(strokeWidth=1.8, strokeDash=[6, 3], clip=True).encode(
        x=alt.X("t:Q", scale=xs, axis=xa2, title=None),
        y=alt.Y("v:Q", scale=ys, axis=ya2, title=None),
        color=col, order="t:Q")
    green = alt.Chart(frame(d, LAB[2])).mark_line(strokeWidth=1.8, clip=True).encode(
        x=alt.X("t:Q", scale=xs, axis=None),
        y=alt.Y("v:Q", scale=ys, axis=None),
        color=col, order="t:Q")
    return alt.layer(red, blue, green).resolve_axis(x="independent", y="independent").properties(
        width=W, height=H)


p1 = panel(LY_GNSS, LY_IMU, LY_DIFF, LEFT_X, [-2.45, 1.85], LEFT_XTICKS, [-2, -1, 0, 1], "Yaw (deg)", False)
p2 = panel(RY_GNSS, RY_IMU, RY_DIFF, RIGHT_X, [-6.3, 6.85], RIGHT_XTICKS, [-5, 0, 5], "Yaw (deg)", False)
p3 = panel(LP_GNSS_PRE + LP_OSC + LP_GNSS_POST, LP_IMU_PRE + LP_OSC + LP_IMU_POST, LP_DIFF, LEFT_X,
           [-1.35, 2.44], LEFT_XTICKS, [-1, 0, 1, 2], "Pitch (deg)", False)
p4 = panel(RP_GNSS, RP_IMU, RP_DIFF, RIGHT_X, [-5.6, 5.95], RIGHT_XTICKS, [-5, 0, 5], "Pitch (deg)", False)
p5 = panel(LR_GNSS, LR_IMU, LR_DIFF, LEFT_X, [-1.21, 1.32], LEFT_XTICKS, [-1, -0.5, 0, 0.5, 1],
           "Roll (deg)", True)
p6 = panel(RR_GNSS, RR_IMU, RR_DIFF, RIGHT_X, [-8.35, 5.6], RIGHT_XTICKS, [-5, 0, 5], "Roll (deg)", True)

chart = alt.concat(p1, p2, p3, p4, p5, p6, columns=2, bounds="flush",
                   spacing={"row": 24, "column": 66}).properties(
    padding={"left": 2, "top": -3, "right": 0, "bottom": 0}
).configure_axis(
    grid=False, domain=False, labelFont="Liberation Sans", labelFontSize=14, labelFontWeight="bold",
    labelColor="#4d4d4d", titleFont="Liberation Sans", titleFontSize=14, titleFontWeight="bold",
    titleColor="#4d4d4d", tickColor="#262626", tickWidth=1
).configure_view(
    stroke="#262626", strokeWidth=1.2
).configure_legend(
    orient="none", legendX=24, legendY=590, direction="horizontal", symbolType="M-3,0H3",
    symbolSize=400, symbolStrokeWidth=7, labelFont="DejaVu Serif", labelFontSize=22.5,
    labelFontWeight="bold", labelColor="#000000", labelLimit=0, columnPadding=-9, labelOffset=27,
    padding=0
)

chart.save("out.html", embed_options={"renderer": "svg", "actions": False})
